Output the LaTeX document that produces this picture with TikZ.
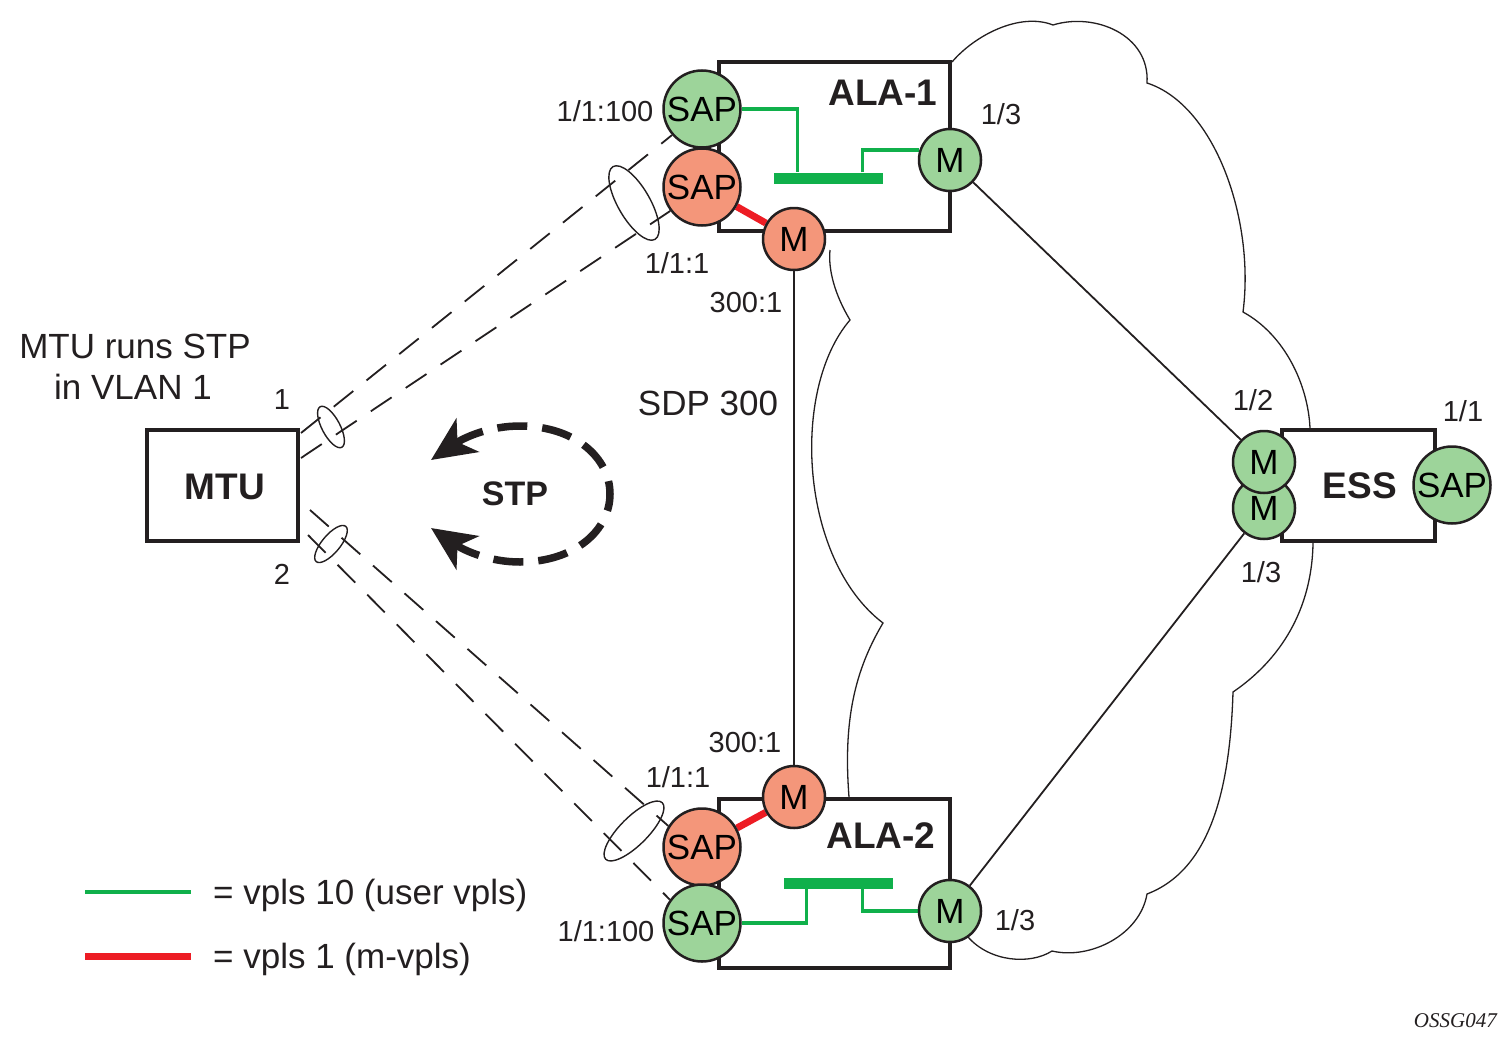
\documentclass[tikz,border=0pt]{standalone}
\usepackage{fontspec}
\setmainfont{Liberation Sans}
\newfontfamily\serifit{Liberation Serif}
\usetikzlibrary{arrows.meta,calc}
\definecolor{gfill}{RGB}{157,212,154}
\definecolor{rfill}{RGB}{244,150,122}
\definecolor{gline}{RGB}{16,176,75}
\definecolor{rline}{RGB}{237,28,36}
\definecolor{ink}{RGB}{35,31,32}
\pgfdeclarelayer{fore}
\pgfsetlayers{main,fore}
\begin{document}
\begin{tikzpicture}[x=1pt,y=-1pt,
  box/.style={draw=ink, line width=4pt, fill=white, inner sep=0pt, rectangle},
  sap/.style={circle, draw=ink, line width=2.5pt, minimum size=77pt, inner sep=0pt, text depth=0pt, font=\fontsize{35}{35}\selectfont},
  mp/.style={circle, draw=ink, line width=2.5pt, minimum size=62pt, inner sep=0pt, text depth=0pt, font=\fontsize{35}{35}\selectfont},
  boxlbl/.style={inner sep=0pt, text depth=0pt, font=\bfseries\fontsize{37}{37}\selectfont, text=ink},
  port/.style={inner sep=0pt, text depth=0pt, font=\fontsize{29}{29}\selectfont, text=ink},
  txt/.style={inner sep=0pt, text depth=0pt, font=\fontsize{35}{35}\selectfont, text=ink},
  bar/.style={fill=gline, inner sep=0pt, minimum width=109pt, minimum height=11pt},
  gl/.style={draw=gline, line width=3.2pt},
  rl/.style={draw=rline, line width=7pt},
  thinl/.style={draw=ink, line width=1.8pt},
  dashl/.style={draw=ink, line width=1.8pt, dash pattern=on 25pt off 17pt},
  ell/.style={draw=ink, line width=1.4pt},
  cloud/.style={draw=ink, line width=1.3pt}
]
\useasboundingbox (0,0) rectangle (1507,1044);

% ---------- circles (front layer) ----------
\begin{pgfonlayer}{fore}
\node[sap, fill=gfill] (sapg1) at (702,109) {SAP};
\node[sap, fill=rfill] (sapr1) at (702,187) {SAP};
\node[mp, fill=rfill] (mr1) at (794,239) {M};
\node[mp, fill=gfill] (mg1) at (950,160) {M};
\node[mp, fill=rfill] (mr2) at (794,797) {M};
\node[sap, fill=rfill] (sapr2) at (702,847) {SAP};
\node[sap, fill=gfill] (sapg2) at (702,923) {SAP};
\node[mp, fill=gfill] (mg2) at (950,911) {M};
\node[mp, fill=gfill] (essm2) at (1264,508) {M};
\node[mp, fill=gfill] (essm1) at (1264,462) {M};
\node[sap, fill=gfill] (esssap) at (1452,485) {SAP};
\end{pgfonlayer}

% ---------- cloud ----------
\draw[cloud] (952,62) .. controls (975,35) and (1020,12) .. (1053,25)
  .. controls (1095,12) and (1150,35) .. (1147,83)
  .. controls (1215,105) and (1255,220) .. (1243,312)
  .. controls (1285,335) and (1308,385) .. (1310,428);
\draw[cloud] (1313,543) .. controls (1312,610) and (1280,660) .. (1233,692)
  .. controls (1230,790) and (1210,870) .. (1147,894)
  .. controls (1140,935) and (1090,960) .. (1052,951)
  .. controls (1030,965) and (990,962) .. (968,937);
\draw[cloud] (849,797) .. controls (843,720) and (855,670) .. (883,623)
  .. controls (800,560) and (790,390) .. (850,320)
  .. controls (835,295) and (828,270) .. (830,250);

% ---------- boxes ----------
\node[box, minimum width=231pt, minimum height=169pt] (ala1) at (834.5,146.5) {};
\node[box, minimum width=231pt, minimum height=169pt] (ala2) at (834.5,883.5) {};
\node[box, minimum width=151pt, minimum height=111pt] (mtu) at (222.5,485.5) {};
\node[box, minimum width=153pt, minimum height=111pt] (ess) at (1358.5,485.5) {};
\node[boxlbl] (ala1t) at (883,93) {ALA-1};
\node[boxlbl] (ala2t) at (881,836) {ALA-2};
\node[boxlbl] (mtut) at (225,487) {MTU};
\node[boxlbl] (esst) at (1360,486) {ESS};

% ---------- bridges ----------
\node[bar] (bar1) at (828.5,178) {};
\node[bar] (bar2) at (838.5,883) {};
\draw[gl] (sapg1.east) -| ($(bar1.north west)+(24,0)$);
\draw[gl] ($(bar1.north east)+(-21,0)$) |- (mg1.162);
\draw[gl] (sapg2.east) -| ($(bar2.south west)+(23,0)$);
\draw[gl] ($(bar2.south east)+(-31,0)$) |- (mg2.west);
\draw[rl] (sapr1) -- (mr1);
\draw[rl] (sapr2) -- (mr2);

% ---------- links ----------
\draw[thinl] (mr1) -- (mr2);
\draw[thinl] (mg1) -- (essm1);
\draw[thinl] (mg2) -- (essm2);

\coordinate (d1) at (301,433);
\coordinate (d2) at (301,458);
\coordinate (d3) at (310,510);
\coordinate (d4) at (308,535);
\draw[dashl] (d1) -- (sapg1.221);
\draw[dashl] (d2) -- (sapr1.217);
\draw[dashl] (d3) -- (sapr2.148);
\draw[dashl] (d4) -- (sapg2.144);

\draw[ell, rotate around={28:(331,427)}] (331,427) ellipse [x radius=9, y radius=23];
\draw[ell, rotate around={30:(634,203)}] (634,203) ellipse [x radius=16, y radius=42];
\draw[ell, rotate around={-40:(331,544)}] (331,544) ellipse [x radius=9, y radius=23];
\draw[ell, rotate around={-45:(634,831)}] (634,831) ellipse [x radius=14, y radius=40];

% ---------- STP ----------
\draw[ink, line width=7.5pt, dash pattern=on 30pt off 15pt,
  arrows={Stealth[length=44pt,width=40pt,inset=12pt]-Stealth[length=44pt,width=40pt,inset=12pt]}]
  (431,460) .. controls (465,437) and (490,426) .. (520,426)
  .. controls (575,426) and (610,458) .. (610,494)
  .. controls (610,530) and (575,562) .. (520,562)
  .. controls (490,562) and (465,551) .. (431,528);
\node[boxlbl, font=\bfseries\fontsize{34}{34}\selectfont] (stp) at (515,494) {STP};

% ---------- labels ----------
\node[port] (l1) at (605,111) {1/1:100};
\node[port] (l2) at (677,263) {1/1:1};
\node[port] (l3) at (746,302) {300:1};
\node[port] (l4) at (1001,114) {1/3};
\node[port] (l5) at (1253,400) {1/2};
\node[port] (l6) at (1463,411) {1/1};
\node[port] (l7) at (1261,572) {1/3};
\node[port] (l8) at (745,742) {300:1};
\node[port] (l9) at (678,777) {1/1:1};
\node[port] (l10) at (606,931) {1/1:100};
\node[port] (l11) at (1015,920) {1/3};
\node[port] (l12) at (282,400) {1};
\node[port] (l13) at (282,574) {2};
\node[txt] (sdp) at (708,403) {SDP 300};
\node[txt] (mt1) at (135,346) {MTU runs STP};
\node[txt] (mt2) at (133,387) {in VLAN 1};

% ---------- legend ----------
\coordinate (lga) at (85,892);
\coordinate (lgb) at (191,892);
\coordinate (lgc) at (85,956);
\coordinate (lgd) at (191,956);
\draw[gl] (lga) -- (lgb);
\draw[rl] (lgc) -- (lgd);
\node[txt, anchor=west] (lgt1) at (213,892) {= vpls 10 (user vpls)};
\node[txt, anchor=west] (lgt2) at (213,956) {= vpls 1 (m-vpls)};

\node[inner sep=0pt, anchor=east, text=ink, font=\serifit\itshape\fontsize{21}{21}\selectfont] (fig) at (1497,1021) {OSSG047};
\end{tikzpicture}
\end{document}
